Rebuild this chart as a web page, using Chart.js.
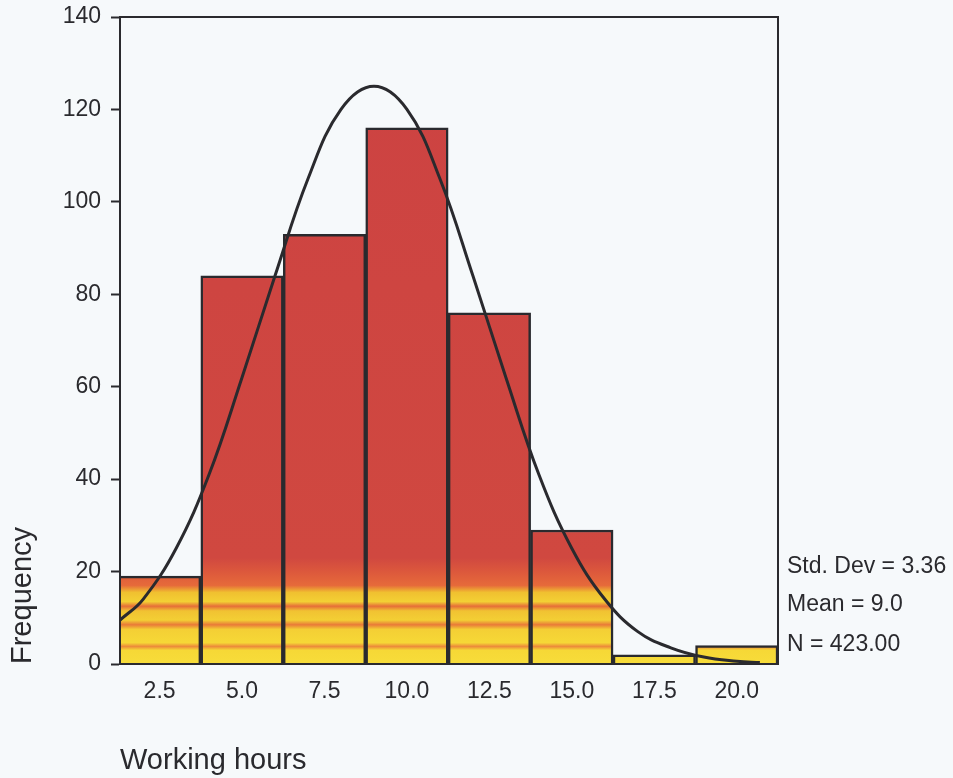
<!DOCTYPE html>
<html>
<head>
<meta charset="utf-8">
<script src="https://cdn.jsdelivr.net/npm/chart.js@4.4.1/dist/chart.umd.min.js"></script>
<style>
	html, body { margin: 0; padding: 0; background: #f6f9fb; }
	#wrap { width: 953px; height: 778px; }
</style>
</head>
<body>
<div id="wrap"><canvas id="histChart" width="953" height="778"></canvas></div>
<script>
// histogram bins (centres) and counts
const binCentres = [2.5, 5.0, 7.5, 10.0, 12.5, 15.0, 17.5, 20.0];
const binCounts = [19, 84, 93, 116, 76, 29, 2, 4];

// normal curve
const curveX = [1.3, 2, 3, 4, 5, 6, 7, 8, 9, 10, 11, 12, 13, 14, 15, 16, 17, 18, 19, 20, 20.7];
const curveY = [9.5, 14, 25, 41, 62, 84, 105, 120, 125, 120, 105, 84, 62, 41, 25, 14, 7, 3.5, 1.5, 0.6, 0.3];

const xTicks = [2.5, 5.0, 7.5, 10.0, 12.5, 15.0, 17.5, 20.0];
const yTicks = [0, 20, 40, 60, 80, 100, 120, 140];

const statLines = ["Std. Dev = 3.36", "Mean = 9.0", "N = 423.00"];

const FONT = "'Liberation Sans', Arial, sans-serif";
const INK = "#2a2a2e";

// colour bands of the bar fill, by frequency value
const fillStops = [
	[0, "#f7dc3a"], [3, "#f6d836"], [3.8, "#ec8a3a"], [4.6, "#f6d836"],
	[7.5, "#f4cf35"], [8.5, "#e97a38"], [9.5, "#f3cf34"],
	[11.5, "#f1c232"], [12.5, "#e66e38"], [13.5, "#f3d034"],
	[15.5, "#f0c030"], [17, "#e66a3a"], [20, "#dc583c"], [23, "#d04840"], [140, "#cc4242"]
];

function barFill(context) {
	const chart = context.chart;
	const y = chart.scales.y;
	if (!chart.chartArea || !y) return "#cc4242";
	const y0 = y.getPixelForValue(0);
	const y1 = y.getPixelForValue(140);
	const g = chart.ctx.createLinearGradient(0, y0, 0, y1);
	fillStops.forEach(([v, c]) => g.addColorStop(v / 140, c));
	return g;
}

const framePlugin = {
	id: "frame",
	afterDraw(chart) {
		const { ctx, chartArea } = chart;
		ctx.save();
		ctx.strokeStyle = INK;
		ctx.lineWidth = 2;
		ctx.strokeRect(chartArea.left, chartArea.top, chartArea.right - chartArea.left, chartArea.bottom - chartArea.top);
		// statistics beside the plot
		ctx.fillStyle = INK;
		ctx.font = "23px " + FONT;
		ctx.textBaseline = "middle";
		ctx.textAlign = "left";
		const offs = [97, 59, 19];
		statLines.forEach((t, i) => ctx.fillText(t, chartArea.right + 9, chartArea.bottom - offs[i]));
		ctx.restore();
	}
};

const ctx = document.getElementById("histChart").getContext("2d");
new Chart(ctx, {
	type: "bar",
	data: {
		datasets: [
			{
				type: "line",
				data: curveX.map((x, i) => ({ x: x, y: curveY[i] })),
				borderColor: INK,
				borderWidth: 3,
				pointRadius: 0,
				tension: 0.4,
				fill: false,
				order: 0,
			},
			{
				type: "bar",
				data: binCentres.map((x, i) => ({ x: x, y: binCounts[i] })),
				backgroundColor: barFill,
				borderColor: INK,
				borderWidth: 2.5,
				barPercentage: 1,
				categoryPercentage: 1,
				order: 1,
			},
		],
	},
	options: {
		responsive: false,
		animation: false,
		layout: { padding: { top: 17, right: 175, bottom: 0, left: 0 } },
		plugins: {
			legend: { display: false },
			tooltip: { enabled: false },
		},
		scales: {
			x: {
				type: "linear",
				offset: false,
				min: 1.3,
				max: 21.25,
				afterBuildTicks: (scale) => { scale.ticks = xTicks.map((v) => ({ value: v })); },
				afterFit: (scale) => { scale.height = 114; scale.paddingLeft = 0; scale.paddingRight = 0; },
				grid: { display: false, drawOnChartArea: false, tickLength: 10, tickColor: INK, tickWidth: 2 },
				border: { color: INK, width: 2 },
				ticks: {
					color: INK,
					font: { family: FONT, size: 23 },
					padding: 4,
					maxRotation: 0,
					callback: (v) => Number(v).toFixed(1),
				},
				title: {
					display: true,
					text: "Working hours",
					align: "start",
					color: INK,
					font: { family: FONT, size: 29 },
					padding: { top: 38, bottom: 0 },
				},
			},
			y: {
				min: 0,
				max: 140,
				afterBuildTicks: (scale) => { scale.ticks = yTicks.map((v) => ({ value: v })); },
				afterFit: (scale) => { scale.width = 120; scale.paddingTop = 0; scale.paddingBottom = 0; },
				grid: { display: true, drawOnChartArea: false, tickLength: 9, tickColor: INK, tickWidth: 2 },
				border: { color: INK, width: 2 },
				ticks: {
					color: INK,
					font: { family: FONT, size: 23 },
					padding: 10,
				},
				title: {
					display: true,
					text: "Frequency",
					align: "start",
					color: INK,
					font: { family: FONT, size: 29 },
					padding: { top: 6, bottom: 4 },
				},
			},
		},
	},
	plugins: [framePlugin],
});
</script>
</body>
</html>
